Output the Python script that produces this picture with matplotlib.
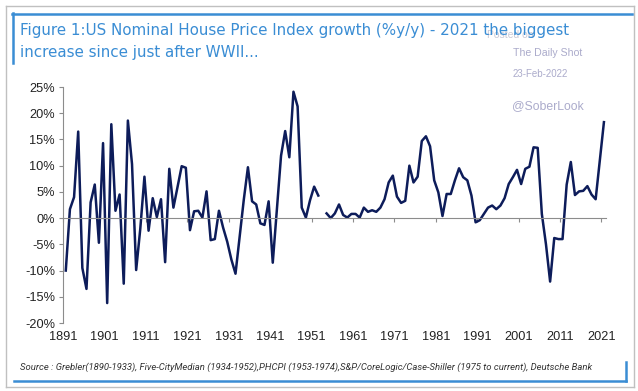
import numpy as np
import matplotlib.pyplot as plt
from matplotlib.lines import Line2D

# Valeurs annuelles (% y/y), 1953 absent dans la serie
years = list(range(1891, 2022))
growth = [
    -10.0, 1.7, 4.0, 16.5, -9.5, -13.5, 3.0, 6.4, -4.7, 14.3,        # 1891-1900
    -16.2, 17.9, 1.4, 4.5, -12.5, 18.6, 10.3, -9.9, -2.0, 7.9,       # 1901-1910
    -2.4, 3.8, 0.2, 3.6, -8.4, 9.4, 2.0, 6.0, 9.9, 9.6,              # 1911-1920
    -2.3, 1.3, 1.4, 0.1, 5.1, -4.2, -4.0, 1.4, -1.8, -4.5,           # 1921-1930
    -7.9, -10.6, -3.5, 3.5, 9.7, 3.2, 2.6, -1.0, -1.3, 3.2,          # 1931-1940
    -8.5, 1.7, 11.9, 16.6, 11.6, 24.1, 21.3, 2.0, 0.1, 3.4,          # 1941-1950
    6.0, 4.3, np.nan, 0.9, 0.0, 0.9, 2.6, 0.6, 0.1, 0.8,             # 1951-1960
    0.8, 0.1, 2.0, 1.2, 1.5, 1.2, 2.0, 3.6, 6.8, 8.1,                # 1961-1970
    4.1, 2.9, 3.3, 10.0, 6.8, 7.9, 14.7, 15.6, 13.7, 7.2,            # 1971-1980
    4.9, 0.4, 4.6, 4.6, 7.2, 9.5, 7.8, 7.2, 4.3, -0.8,               # 1981-1990
    -0.4, 0.8, 2.0, 2.4, 1.7, 2.4, 3.8, 6.5, 7.8, 9.2,               # 1991-2000
    6.5, 9.4, 9.8, 13.5, 13.4, 0.8, -5.0, -12.1, -3.8, -4.0,         # 2001-2010
    -4.0, 6.4, 10.7, 4.4, 5.1, 5.2, 6.1, 4.5, 3.6, 11.0,             # 2011-2020
    18.3,                                                            # 2021
]
tick_years = list(range(1891, 2022, 10))
yticks = list(range(-20, 30, 5))

W, H = 638, 391
BLUE = "#3A8DD4"
NAVY = "#0D1C5A"
GREY = "#8C8C8C"


def fx(px):
    return px / W


def fy(py):
    return 1 - py / H


fig = plt.figure(figsize=(W / 100, H / 100), dpi=100)

# Cadre gris et lignes bleues
for xs, ys, c, lw in [
    ([6, 634], [6, 6], "#C0C0C0", 1.0),
    ([6, 6], [6, 387], "#C0C0C0", 1.0),
    ([6, 634], [387, 387], "#C0C0C0", 1.0),
    ([634, 634], [6, 387], "#C0C0C0", 1.0),
    ([12, 632], [13.5, 13.5], BLUE, 1.8),
    ([13, 13], [13, 63], BLUE, 1.8),
    ([14, 626], [381, 381], BLUE, 1.8),
    ([626, 626], [362, 381], BLUE, 1.8),
]:
    fig.add_artist(Line2D([fx(x) for x in xs], [fy(y) for y in ys],
                          transform=fig.transFigure, color=c, lw=lw))

# Filigranes
fig.text(fx(487), fy(35), "Posted on", fontsize=7.5, color="#C9C9D6",
         family="Liberation Sans", va="center")
fig.text(fx(513), fy(53), "The Daily Shot", fontsize=7.6, color="#ABABCB",
         family="Liberation Sans", va="center")
fig.text(fx(513), fy(74), "23-Feb-2022", fontsize=7.0, color="#ABABCB",
         family="Liberation Sans", va="center")
fig.text(fx(512), fy(106), "@SoberLook", fontsize=8.8, color="#ABABCB",
         family="Liberation Sans", va="center")

# Titre (dessine par-dessus "Posted on")
fig.text(fx(20), fy(31), "Figure 1:US Nominal House Price Index growth (%y/y) - 2021 the biggest",
         fontsize=10.9, color=BLUE, family="DejaVu Sans", va="center", zorder=5)
fig.text(fx(20), fy(53), "increase since just after WWII...",
         fontsize=10.9, color=BLUE, family="DejaVu Sans", va="center", zorder=5)

# Source
fig.text(fx(20), fy(367),
         "Source : Grebler(1890-1933), Five-CityMedian (1934-1952),PHCPI (1953-1974),"
         "S&P/CoreLogic/Case-Shiller (1975 to current), Deutsche Bank",
         fontsize=6.8, style="italic", color="#333333", family="Roboto", va="center")

# Graphique
ax = fig.add_axes([fx(63.3), fy(323), fx(606 - 63.3), (323 - 87) / H])
ax.plot(years, growth, color=NAVY, lw=1.8)
ax.set_ylim(-20, 25)
ax.set_xlim(1890.4, 2021.5)

ax.spines["top"].set_visible(False)
ax.spines["right"].set_visible(False)
ax.spines["left"].set_color(GREY)
ax.spines["bottom"].set_color(GREY)
ax.spines["bottom"].set_position(("data", 0))

ax.set_yticks(yticks)
ax.set_yticklabels([f"{v}%" for v in yticks], family="Liberation Sans", fontsize=9.2, color="#222222")
ax.tick_params(axis="y", direction="out", length=3, color=GREY, pad=3)

tick_pos = [y - 0.6 for y in tick_years]
ax.set_xticks(tick_pos)
ax.tick_params(axis="x", direction="out", length=3, color=GREY, labelbottom=False)

secax = ax.secondary_xaxis("bottom")
secax.set_xticks(tick_pos)
secax.set_xticklabels([str(y) for y in tick_years], family="Liberation Sans", fontsize=9.2, color="#222222")
secax.tick_params(length=0, pad=6)
secax.spines["bottom"].set_visible(False)

fig.savefig("out.png", dpi=100)
